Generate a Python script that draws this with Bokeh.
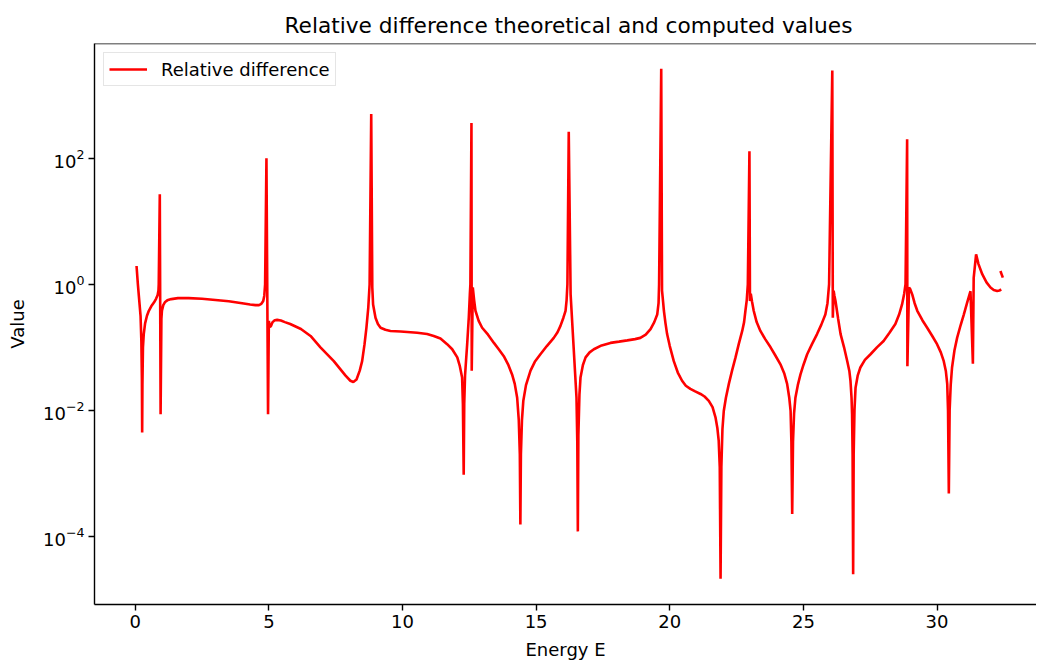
from bokeh.plotting import figure
from bokeh.models import FixedTicker, Span
from bokeh.embed import file_html
from bokeh.resources import INLINE

# Energy E values (main curve)
energy = [
    0.05, 0.10, 0.15, 0.20, 0.23, 0.25, 0.26, 0.27, 0.29, 0.32, 0.37, 0.44, 0.51, 0.60, 0.70,
    0.78, 0.84, 0.87, 0.88, 0.92, 0.95, 0.98, 1.00, 1.05, 1.12, 1.20, 1.35, 1.60, 2.00, 2.50,
    3.00, 3.50, 4.00, 4.30, 4.50, 4.63, 4.72, 4.79, 4.83, 4.86, 4.91, 4.97, 5.00, 5.04, 5.08,
    5.14, 5.22, 5.31, 5.45, 5.60, 5.80, 6.00, 6.20, 6.56, 6.93, 7.43, 7.87, 8.05, 8.16, 8.28,
    8.40, 8.49, 8.58, 8.65, 8.72, 8.77, 8.83, 8.87, 8.90, 8.99, 9.08, 9.18, 9.36, 9.55, 9.93,
    10.55, 10.92, 11.17, 11.42, 11.67, 11.86, 12.05, 12.14, 12.23, 12.26, 12.29, 12.31, 12.34,
    12.36, 12.42, 12.48, 12.52, 12.54, 12.58, 12.59, 12.63, 12.68, 12.73, 12.85, 12.98, 13.20,
    13.42, 13.60, 13.79, 13.95, 14.10, 14.20, 14.29, 14.35, 14.39, 14.41, 14.43, 14.47, 14.52,
    14.62, 14.79, 14.95, 15.16, 15.40, 15.66, 15.80, 15.91, 16.02, 16.10, 16.14, 16.17, 16.22,
    16.29, 16.51, 16.54, 16.56, 16.58, 16.62, 16.66, 16.75, 16.85, 17.00, 17.16, 17.45, 17.78,
    18.10, 18.41, 18.70, 18.90, 19.10, 19.28, 19.42, 19.53, 19.58, 19.60, 19.68, 19.71, 19.75,
    19.78, 19.84, 19.90, 20.00, 20.15, 20.30, 20.46, 20.60, 20.77, 20.95, 21.15, 21.30, 21.46,
    21.60, 21.71, 21.78, 21.83, 21.87, 21.90, 21.93, 21.97, 22.02, 22.10, 22.21, 22.33, 22.46,
    22.58, 22.71, 22.78, 22.83, 22.88, 22.92, 22.98, 23.00, 23.03, 23.08, 23.14, 23.25, 23.39,
    23.57, 23.77, 23.95, 24.14, 24.28, 24.39, 24.47, 24.52, 24.55, 24.58, 24.61, 24.65, 24.70,
    24.79, 24.89, 25.00, 25.14, 25.32, 25.51, 25.67, 25.82, 25.90, 25.96, 26.08, 26.10, 26.13,
    26.16, 26.20, 26.30, 26.39, 26.52, 26.64, 26.72, 26.76, 26.80, 26.82, 26.84, 26.86, 26.88,
    26.91, 26.95, 27.03, 27.13, 27.30, 27.51, 27.75, 28.00, 28.22, 28.44, 28.58, 28.69, 28.77,
    28.82, 28.88, 28.89, 28.95, 29.00, 29.07, 29.16, 29.26, 29.45, 29.63, 29.82, 30.00, 30.14,
    30.25, 30.33, 30.38, 30.41, 30.44, 30.47, 30.51, 30.56, 30.65, 30.75, 30.88, 31.00, 31.12,
    31.25, 31.34, 31.37, 31.46, 31.55, 31.69, 31.85, 32.00, 32.12, 32.25, 32.33, 32.40,
]

# log10 of the relative difference (main curve)
log10_rel_diff = [
    0.29, 0.00, -0.25, -0.50, -0.90, -1.50, -2.35, -1.60, -1.00, -0.79, -0.62, -0.50, -0.42, -0.35, -0.29,
    -0.23, -0.17, -0.10, 0.00, 1.43, -2.06, -0.55, -0.42, -0.33, -0.28, -0.255, -0.235, -0.22, -0.22, -0.23,
    -0.25, -0.27, -0.30, -0.32, -0.33, -0.33, -0.31, -0.265, -0.18, 0.00, 2.00, -2.06, -0.58, -0.68, -0.66,
    -0.60, -0.57, -0.565, -0.575, -0.60, -0.63, -0.67, -0.71, -0.82, -1.00, -1.22, -1.45, -1.53, -1.55, -1.51,
    -1.37, -1.22, -0.95, -0.69, -0.37, 0.00, 2.70, -0.05, -0.32, -0.53, -0.63, -0.69, -0.72, -0.74, -0.75,
    -0.77, -0.79, -0.82, -0.86, -0.95, -1.03, -1.16, -1.29, -1.48, -1.90, -3.02, -1.90, -1.45,
    -1.32, -0.95, -0.53, -0.16, 0.00, 2.56, -1.37, -0.05, -0.25, -0.42, -0.58, -0.69, -0.80,
    -0.93, -1.03, -1.14, -1.27, -1.43, -1.58, -1.80, -2.15, -2.70, -3.81, -2.70, -2.15, -1.85,
    -1.60, -1.37, -1.23, -1.11, -0.98, -0.85, -0.76, -0.66, -0.53, -0.42, -0.25, 0.00, 2.42,
    -0.16, -1.80, -2.50, -3.92, -2.40, -1.75, -1.48, -1.28, -1.16, -1.08, -1.03, -0.97, -0.93,
    -0.91, -0.89, -0.87, -0.85, -0.80, -0.71, -0.60, -0.48, -0.30, 0.00, 3.42, -0.10, -0.28,
    -0.42, -0.62, -0.79, -0.98, -1.22, -1.40, -1.53, -1.61, -1.66, -1.70, -1.74, -1.78, -1.85,
    -1.95, -2.11, -2.28, -2.48, -2.90, -4.67, -2.90, -2.30, -2.01, -1.80, -1.58, -1.37, -1.16,
    -0.95, -0.74, -0.60, -0.42, -0.25, 0.00, 2.11, -0.265, -0.15, -0.28, -0.42, -0.60, -0.74,
    -0.87, -1.00, -1.13, -1.27, -1.41, -1.58, -1.80, -2.01, -2.50, -3.645, -2.50, -2.05, -1.80,
    -1.60, -1.43, -1.28, -1.11, -0.95, -0.79, -0.64, -0.48, -0.30, 0.00, 3.39, -0.53, -0.10,
    -0.18, -0.265, -0.55, -0.79, -1.00, -1.22, -1.38, -1.53, -1.80, -2.06, -2.70, -4.60, -2.70,
    -2.00, -1.64, -1.45, -1.32, -1.20, -1.11, -1.00, -0.90, -0.77, -0.63, -0.48, -0.32, -0.15,
    0.00, 2.30, -1.30, -0.05, -0.08, -0.16, -0.30, -0.42, -0.57, -0.69, -0.82, -0.95, -1.08,
    -1.22, -1.38, -1.58, -2.00, -3.32, -2.00, -1.60, -1.32, -1.05, -0.85, -0.65, -0.48, -0.30,
    -0.11, -1.26, 0.10, 0.475, 0.32, 0.16, 0.03, -0.05, -0.09, -0.106, -0.10, -0.08,
]

# short detached piece at the right end
tail_energy = [32.37, 32.46]
tail_log10_rel_diff = [0.21, 0.105]

rel_diff = [10 ** v for v in log10_rel_diff]
tail_rel_diff = [10 ** v for v in tail_log10_rel_diff]

x_ticks = [0, 5, 10, 15, 20, 25, 30]
y_ticks = [1e-4, 1e-2, 1e0, 1e2]

FONT = "DejaVu Sans"
TICK_FS = "18px"

p = figure(
    width=1036, height=662,
    y_axis_type="log",
    x_range=(-1.523, 33.72),
    y_range=(10 ** -5.08, 10 ** 3.82),
    output_backend="svg",
    toolbar_location=None,
    title="Relative difference theoretical and computed values",
    min_border_left=94, min_border_right=0, min_border_top=43, min_border_bottom=58,
)
p.outline_line_color = None
p.background_fill_color = "white"
p.border_fill_color = "white"
p.xgrid.visible = False
p.ygrid.visible = False

p.title.text_font = FONT
p.title.text_font_size = "21.7px"
p.title.text_font_style = "normal"
p.title.text_color = "black"
p.title.align = "left"
p.title.offset = 190
p.title.standoff = 12

p.line(energy, rel_diff, line_color="#ff0000", line_width=2.6, legend_label="Relative difference")
p.line(tail_energy, tail_rel_diff, line_color="#ff0000", line_width=2.6)

# top border of the frame
p.add_layout(Span(location=10 ** 3.82, dimension="width", line_color="black", line_width=1.4))

for ax in (p.xaxis[0], p.yaxis[0]):
    ax.axis_line_color = "black"
    ax.axis_line_width = 1.4
    ax.major_tick_line_color = "black"
    ax.major_tick_line_width = 1.4
    ax.major_tick_out = 6
    ax.major_tick_in = 0
    ax.minor_tick_out = 0
    ax.minor_tick_in = 0
    ax.major_label_text_font = FONT
    ax.major_label_text_font_size = TICK_FS
    ax.major_label_text_color = "black"
    ax.axis_label_text_font = FONT
    ax.axis_label_text_font_size = TICK_FS
    ax.axis_label_text_font_style = "normal"
    ax.axis_label_text_color = "black"
    ax.major_label_standoff = 4

p.xaxis[0].ticker = FixedTicker(ticks=x_ticks, minor_ticks=[])
p.yaxis[0].ticker = FixedTicker(ticks=y_ticks, minor_ticks=[])
p.xaxis[0].axis_label = "Energy E"
p.yaxis[0].axis_label = "Value"
p.xaxis[0].axis_label_standoff = 8
p.yaxis[0].axis_label_standoff = 12

lg = p.legend[0]
lg.location = "top_left"
lg.margin = 9
lg.padding = 5
lg.spacing = 0
lg.glyph_width = 38
lg.glyph_height = 22
lg.label_height = 22
lg.label_standoff = 14
lg.label_text_font = FONT
lg.label_text_font_size = TICK_FS
lg.label_text_color = "black"
lg.border_line_color = "#cccccc"
lg.border_line_width = 1
lg.background_fill_color = "white"
lg.background_fill_alpha = 0.8

open("out.html", "w").write(file_html(p, INLINE))
